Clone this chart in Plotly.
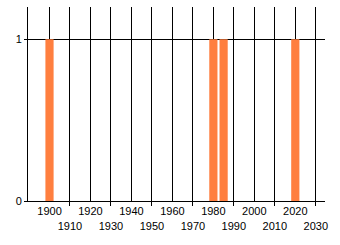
import plotly.graph_objects as go

years = [1900, 1980, 1985, 2020]
counts = [1, 1, 1, 1]
tick_years = list(range(1900, 2031, 10))
tick_labels = [str(y) if (y // 10) % 2 == 0 else "<br>" + str(y) for y in tick_years]
odd_ticks = [y for y in tick_years if (y // 10) % 2 == 1]

fig = go.Figure(go.Bar(x=years, y=counts, width=4, marker=dict(color="#ff7f3f", line=dict(width=0))))

fig.update_layout(
    width=340, height=245,
    margin=dict(l=28, r=15, t=7, b=44),
    paper_bgcolor="white", plot_bgcolor="white",
    showlegend=False,
    font=dict(family="Liberation Sans, Arial, sans-serif", size=11, color="black"),
)
fig.update_xaxes(
    range=[1889.5, 2034.5],
    tickvals=tick_years, ticktext=tick_labels,
    showgrid=True, gridcolor="black", gridwidth=1,
    showline=True, linecolor="black", linewidth=1,
    ticks="", tickangle=0,
    minor=dict(tickvals=odd_ticks, ticks="outside", ticklen=4, tickcolor="black", showgrid=False),
    zeroline=False,
)
fig.update_yaxes(
    range=[0, 1.2],
    tickvals=[0, 1], ticktext=["0", "1"],
    showgrid=True, gridcolor="black", gridwidth=1,
    showline=True, linecolor="black", linewidth=1,
    ticks="outside", ticklen=3, tickcolor="black",
    zeroline=False,
)
fig.write_html("out.html")
